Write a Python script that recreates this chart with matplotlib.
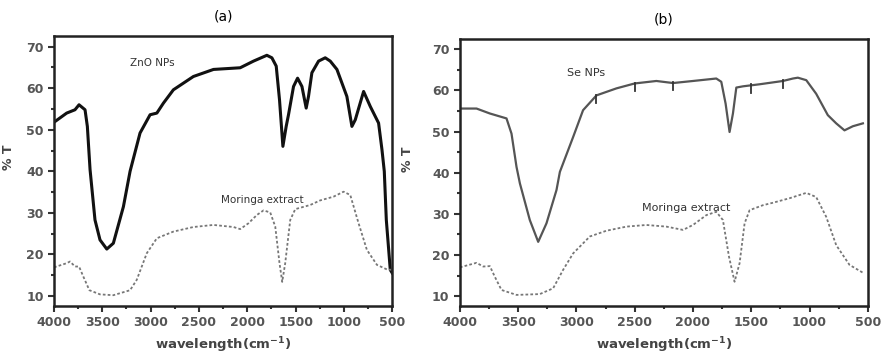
import numpy as np
import matplotlib
matplotlib.use("Agg")
import matplotlib.pyplot as plt
from matplotlib.ticker import MultipleLocator

# (a) ZnO NPs
zno_w = [4000, 3869, 3783, 3741, 3679, 3655, 3627, 3576, 3524, 3454, 3386, 3282,
         3213, 3110, 3006, 2936, 2868, 2765, 2558, 2350, 2074, 1936, 1798, 1746,
         1701, 1667, 1632, 1598, 1574, 1522, 1480, 1435, 1391, 1367, 1332, 1263,
         1194, 1142, 1073, 970, 918, 883, 797, 728, 642, 607, 583, 562, 521, 500]
zno_t = [51.8, 54.0, 54.8, 56.0, 54.8, 50.8, 40.4, 28.3, 23.5, 21.3, 22.7, 31.5,
         40.0, 49.2, 53.6, 54.0, 56.4, 59.6, 62.8, 64.5, 64.9, 66.5, 67.9, 67.3,
         65.3, 57.2, 46.0, 50.8, 53.6, 60.4, 62.4, 60.4, 55.2, 58.0, 63.7, 66.5,
         67.3, 66.5, 64.5, 58.0, 50.8, 52.4, 59.2, 55.6, 51.6, 45.2, 40.0, 28.3, 16.3, 15.5]

# (a) Moringa extract
mor_a_w = [4000, 3869, 3834, 3783, 3741, 3697, 3634, 3524, 3386, 3213, 3144, 3040,
           2936, 2765, 2558, 2350, 2143, 2074, 1988, 1901, 1832, 1763, 1711, 1667,
           1639, 1608, 1556, 1504, 1349, 1246, 1108, 1004, 935, 849, 763, 659, 556, 500]
mor_a_t = [16.9, 17.9, 18.3, 17.1, 17.1, 14.7, 11.4, 10.4, 10.2, 11.4, 13.9, 20.3,
           23.9, 25.5, 26.6, 27.1, 26.6, 26.1, 27.5, 29.5, 30.6, 30.1, 26.7, 17.9,
           13.4, 17.9, 28.3, 30.9, 31.9, 33.0, 33.9, 35.1, 34.3, 27.5, 21.1, 17.5, 16.4, 16.3]

# (b) Se NPs
se_w = [4000, 3857, 3743, 3600, 3557, 3514, 3485, 3400, 3328, 3257, 3171, 3142,
        3028, 2943, 2828, 2657, 2500, 2314, 2171, 2000, 1800, 1757, 1720, 1686,
        1657, 1628, 1571, 1428, 1228, 1142, 1100, 1028, 943, 843, 771, 700, 628, 542]
se_t = [55.6, 55.6, 54.4, 53.2, 49.5, 41.4, 37.4, 28.5, 23.2, 27.7, 35.8, 40.2,
        48.7, 55.2, 58.8, 60.5, 61.7, 62.3, 61.8, 62.3, 62.9, 62.1, 56.8, 49.9,
        54.4, 60.7, 61.0, 61.5, 62.3, 62.9, 63.1, 62.5, 59.2, 54.0, 52.0, 50.3, 51.3, 52.0]
se_marks = [2828, 2500, 2171, 1500, 1228]

# (b) Moringa extract
mor_b_w = [4000, 3857, 3800, 3743, 3700, 3643, 3514, 3314, 3200, 3114, 3028, 2885,
           2743, 2571, 2400, 2228, 2085, 2000, 1885, 1800, 1743, 1691, 1643, 1600,
           1557, 1514, 1400, 1314, 1171, 1028, 943, 857, 771, 657, 542]
mor_b_t = [17.0, 18.1, 17.2, 17.3, 14.7, 11.5, 10.3, 10.5, 11.9, 16.4, 20.4, 24.5,
           25.9, 26.9, 27.3, 26.9, 26.1, 27.3, 29.7, 30.5, 28.5, 19.6, 13.5, 18.0,
           27.7, 30.9, 32.1, 32.7, 33.8, 35.1, 34.1, 29.3, 22.4, 17.6, 15.7]

tick_col = "#555555"

fig = plt.figure(figsize=(8.81, 3.56), dpi=100)
ax_a = fig.add_axes([0.0613, 0.1404, 0.384, 0.758])
ax_b = fig.add_axes([0.522, 0.1404, 0.463, 0.750])


def style(ax, title, ylab_x):
    ax.set_xlim(4000, 500)
    ax.set_ylim(7.6, 72.5)
    ax.xaxis.set_major_locator(MultipleLocator(500))
    ax.xaxis.set_minor_locator(MultipleLocator(250))
    ax.yaxis.set_major_locator(MultipleLocator(10))
    ax.yaxis.set_minor_locator(MultipleLocator(5))
    for s in ax.spines.values():
        s.set_linewidth(1.8)
        s.set_color("#222222")
    ax.tick_params(which="both", direction="out", width=1.5, color="#333333",
                   labelsize=9, labelcolor=tick_col, top=False, right=False)
    ax.tick_params(which="major", length=4)
    ax.tick_params(which="minor", length=2.5)
    for lab in ax.get_xticklabels() + ax.get_yticklabels():
        lab.set_fontweight("bold")
    ax.set_title(title, fontsize=10, pad=11)
    ax.set_xlabel("wavelength(cm$^{\\mathbf{-1}}$)", fontsize=9.5,
                  fontweight="bold", color="#444444", labelpad=4)
    ax.set_ylabel("% T", fontsize=9, fontweight="bold", color="#444444")
    ax.yaxis.set_label_coords(ylab_x, 0.55)


ax_a.plot(zno_w, zno_t, color="#111111", lw=2.2)
ax_a.plot(mor_a_w, mor_a_t, color="#777777", lw=1.3, ls=(0, (1.5, 1.2)))
ax_a.text(2985, 66.0, "ZnO NPs", fontsize=7.5, color="#333333",
          ha="center", va="center")
ax_a.text(1850, 33.0, "Moringa extract", fontsize=7.5, color="#333333",
          ha="center", va="center")
style(ax_a, "(a)", -0.115)

ax_b.plot(se_w, se_t, color="#555555", lw=1.6)
ax_b.plot(mor_b_w, mor_b_t, color="#777777", lw=1.3, ls=(0, (1.5, 1.2)))
for m in se_marks:
    y0 = np.interp(-m, -np.array(se_w), np.array(se_t))
    ax_b.plot([m, m], [y0 - 1.8, y0 + 0.2], color="#333333", lw=1.3)
ax_b.text(2920, 64.2, "Se NPs", fontsize=8, color="#333333",
          ha="center", va="center")
ax_b.text(2060, 31.4, "Moringa extract", fontsize=8, color="#333333",
          ha="center", va="center")
style(ax_b, "(b)", -0.113)

fig.savefig("out.png", dpi=100)
